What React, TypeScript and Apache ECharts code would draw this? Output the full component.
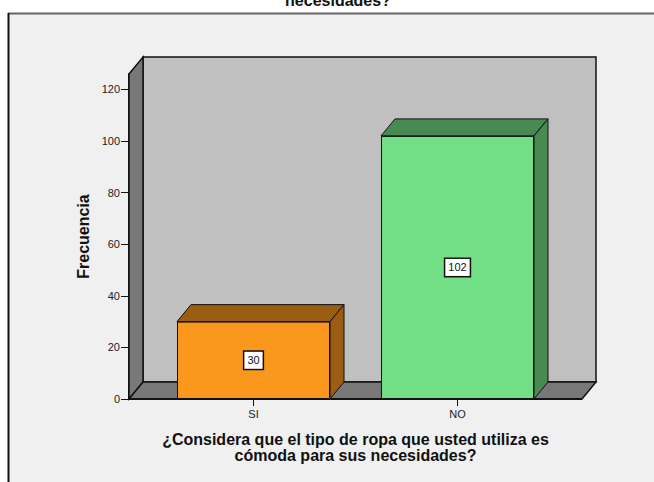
import React, { useEffect, useRef } from "react";
import * as echarts from "echarts";

const categories = ["SI", "NO"];
const frequencies = [30, 102];
const yTicks = [0, 20, 40, 60, 80, 100, 120];
const faceColors = ["#fa981e", "#72de86"];
const shadeColors = ["#9a5d12", "#478b53"];
const titleLastLine = "necesidades?";
const xName = "¿Considera que el tipo de ropa que usted utiliza es\ncómoda para sus necesidades?";
const yName = "Frecuencia";

const DX = 14;
const DY = -17;
const MARGIN = 22.5;
const FONT = "'Liberation Sans', Arial, sans-serif";

export default function App() {
  const ref = useRef<HTMLDivElement>(null);
  useEffect(() => {
    const chart = echarts.init(ref.current!, null, { renderer: "svg" });
    chart.setOption({
      animation: false,
      backgroundColor: "#ffffff",
      textStyle: { fontFamily: FONT },
      title: {
        text: titleLastLine,
        left: 333,
        top: -13,
        textAlign: "center",
        textStyle: { fontSize: 16, fontWeight: "bold", color: "#111", fontFamily: FONT },
      },
      graphic: [
        {
          type: "rect",
          z: -10,
          silent: true,
          shape: { x: 8, y: 13, width: 646, height: 469 },
          style: { fill: "#f0f0f0" },
        },
        {
          type: "line",
          z: -9,
          silent: true,
          shape: { x1: 8, y1: 13.5, x2: 654, y2: 13.5 },
          style: { stroke: "#666666", lineWidth: 2 },
        },
        {
          type: "line",
          z: -9,
          silent: true,
          shape: { x1: 8.5, y1: 13, x2: 8.5, y2: 482 },
          style: { stroke: "#111111", lineWidth: 2 },
        },
      ],
      grid: { left: 129 + MARGIN, width: 408, top: 74, height: 325 },
      xAxis: {
        type: "category",
        data: categories,
        axisLine: { show: false },
        axisTick: { show: true, alignWithLabel: true, length: 7, lineStyle: { color: "#111", width: 1 } },
        axisLabel: { fontSize: 11, color: "#222", margin: 9, fontFamily: FONT },
        name: xName,
        nameLocation: "middle",
        nameGap: 32,
        nameTextStyle: { fontSize: 16, fontWeight: "bold", color: "#111", lineHeight: 16, fontFamily: FONT },
      },
      yAxis: {
        type: "value",
        min: 0,
        max: 126,
        interval: 20,
        offset: MARGIN,
        splitLine: { show: false },
        axisLine: { show: true, onZero: false, lineStyle: { color: "#111", width: 2 } },
        axisTick: { show: true, length: 8, customValues: yTicks, lineStyle: { color: "#111", width: 1 } },
        axisLabel: { fontSize: 11, color: "#222", margin: 9, customValues: yTicks, fontFamily: FONT },
        name: yName,
        nameLocation: "middle",
        nameGap: 37.5,
        nameMoveOverlap: false,
        nameTextStyle: { fontSize: 16, fontWeight: "bold", color: "#111", fontFamily: FONT },
      },
      series: [
        {
          type: "custom",
          z: 1,
          silent: true,
          data: [[0, 0]],
          renderItem: (params: any) => {
            const c = params.coordSys;
            const l = c.x - MARGIN;
            const r = c.x + c.width + MARGIN;
            const t = c.y;
            const b = c.y + c.height;
            const line = { stroke: "#111", lineWidth: 1.5 };
            return {
              type: "group",
              children: [
                {
                  type: "polygon",
                  shape: { points: [[l + DX, t + DY], [r + DX, t + DY], [r + DX, b + DY], [l + DX, b + DY]] },
                  style: { fill: "#c0c0c0", ...line },
                },
                {
                  type: "polygon",
                  shape: { points: [[l, t], [l + DX, t + DY], [l + DX, b + DY], [l, b]] },
                  style: { fill: "#787878", ...line },
                },
                {
                  type: "polygon",
                  shape: { points: [[l, b], [l + DX, b + DY], [r + DX, b + DY], [r, b]] },
                  style: { fill: "#787878", ...line },
                },
                {
                  type: "line",
                  shape: { x1: l, y1: b, x2: r, y2: b },
                  style: { stroke: "#111", lineWidth: 2 },
                },
              ],
            };
          },
        },
        {
          type: "custom",
          z: 2,
          silent: true,
          data: categories.map((_, i) => [i, frequencies[i]]),
          renderItem: (params: any, api: any) => {
            const i = api.value(0);
            const [cx, top] = api.coord([i, api.value(1)]);
            const [, bottom] = api.coord([i, 0]);
            const half = (api.size([1, 0])[0] * 0.75) / 2;
            const l = cx - half;
            const r = cx + half;
            const style = { fill: shadeColors[i], stroke: "#111", lineWidth: 1 };
            return {
              type: "group",
              children: [
                {
                  type: "polygon",
                  shape: { points: [[l, top], [l + DX, top + DY], [r + DX, top + DY], [r, top]] },
                  style,
                },
                {
                  type: "polygon",
                  shape: { points: [[r, top], [r + DX, top + DY], [r + DX, bottom + DY], [r, bottom]] },
                  style,
                },
              ],
            };
          },
        },
        {
          type: "bar",
          z: 3,
          barWidth: "75%",
          silent: true,
          data: frequencies.map((v, i) => ({
            value: v,
            itemStyle: { color: faceColors[i], borderColor: "#111", borderWidth: 1 },
          })),
          label: {
            show: true,
            position: "inside",
            fontSize: 11,
            color: "#111",
            fontFamily: FONT,
            backgroundColor: "#ffffff",
            borderColor: "#111",
            borderWidth: 1.5,
            padding: [3, 3, 3, 3],
          },
        },
      ],
    });
    return () => chart.dispose();
  }, []);
  return (
    <div
      ref={ref}
      style={{ position: "absolute", left: 0, top: 0, width: 654, height: 482, overflow: "hidden" }}
    />
  );
}
